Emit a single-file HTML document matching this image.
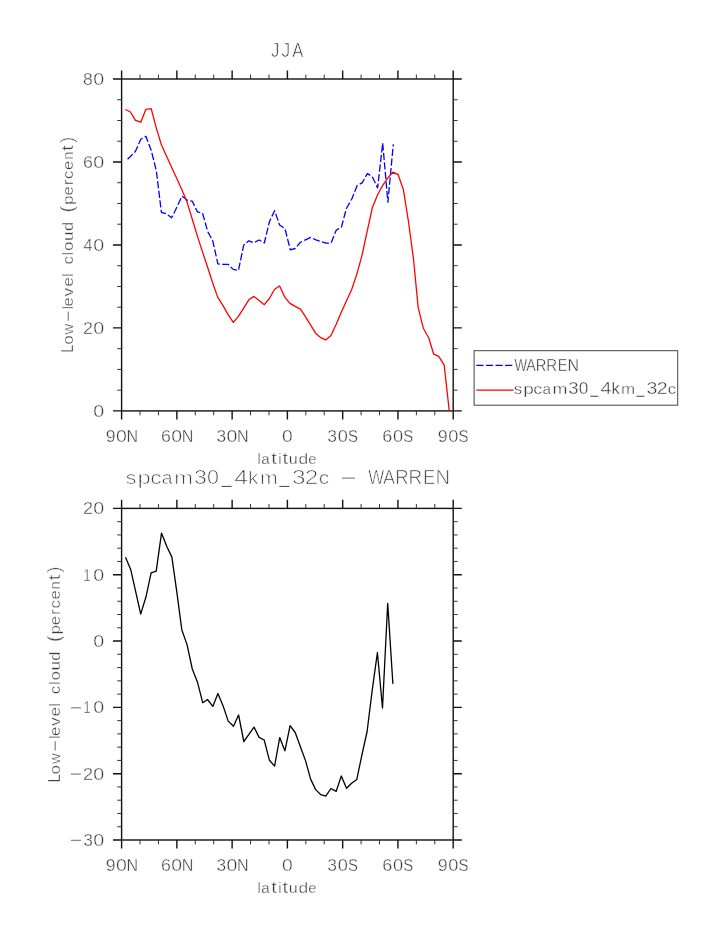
<!DOCTYPE html>
<html><head><meta charset="utf-8"><title>JJA Low-level cloud</title>
<style>html,body{margin:0;padding:0;background:#fff}svg{display:block}text{font-family:"Liberation Sans",sans-serif;fill:#3a3a3a;stroke:#fff}</style></head><body>
<svg style="will-change:transform" width="723" height="935" viewBox="0 0 723 935">
<rect width="723" height="935" fill="#fff"/>
<g stroke="#111" fill="none" stroke-width="1.4">
<rect x="121.60" y="79.00" width="331.60" height="331.90"/>
<path d="M121.60 79.00v-8.60M121.60 410.90v8.60M176.87 79.00v-8.60M176.87 410.90v8.60M232.13 79.00v-8.60M232.13 410.90v8.60M287.40 79.00v-8.60M287.40 410.90v8.60M342.67 79.00v-8.60M342.67 410.90v8.60M397.93 79.00v-8.60M397.93 410.90v8.60M453.20 79.00v-8.60M453.20 410.90v8.60M121.60 79.00h-8.60M453.20 79.00h8.60M121.60 161.97h-8.60M453.20 161.97h8.60M121.60 244.95h-8.60M453.20 244.95h8.60M121.60 327.92h-8.60M453.20 327.92h8.60M121.60 410.90h-8.60M453.20 410.90h8.60"/>
</g>
<g stroke="#333" fill="none" stroke-width="1">
<path d="M140.02 79.00v-4.40M140.02 410.90v4.40M158.44 79.00v-4.40M158.44 410.90v4.40M195.29 79.00v-4.40M195.29 410.90v4.40M213.71 79.00v-4.40M213.71 410.90v4.40M250.56 79.00v-4.40M250.56 410.90v4.40M268.98 79.00v-4.40M268.98 410.90v4.40M305.82 79.00v-4.40M305.82 410.90v4.40M324.24 79.00v-4.40M324.24 410.90v4.40M361.09 79.00v-4.40M361.09 410.90v4.40M379.51 79.00v-4.40M379.51 410.90v4.40M416.36 79.00v-4.40M416.36 410.90v4.40M434.78 79.00v-4.40M434.78 410.90v4.40M121.60 99.74h-4.40M453.20 99.74h4.40M121.60 120.49h-4.40M453.20 120.49h4.40M121.60 141.23h-4.40M453.20 141.23h4.40M121.60 182.72h-4.40M453.20 182.72h4.40M121.60 203.46h-4.40M453.20 203.46h4.40M121.60 224.21h-4.40M453.20 224.21h4.40M121.60 265.69h-4.40M453.20 265.69h4.40M121.60 286.44h-4.40M453.20 286.44h4.40M121.60 307.18h-4.40M453.20 307.18h4.40M121.60 348.67h-4.40M453.20 348.67h4.40M121.60 369.41h-4.40M453.20 369.41h4.40M121.60 390.16h-4.40M453.20 390.16h4.40"/>
</g>
<g font-size="16.50" stroke-width="0.37">
<text transform="translate(93.23 84.85) scale(1.192 1.000)">0</text>
<text transform="translate(83.04 84.85) scale(1.059 1.000)">8</text>
</g>
<g font-size="16.50" stroke-width="0.37">
<text transform="translate(93.23 167.82) scale(1.192 1.000)">0</text>
<text transform="translate(82.90 167.82) scale(1.077 1.000)">6</text>
</g>
<g font-size="16.50" stroke-width="0.37">
<text transform="translate(93.23 250.80) scale(1.192 1.000)">0</text>
<text transform="translate(83.43 250.80) scale(0.986 1.000)">4</text>
</g>
<g font-size="16.50" stroke-width="0.37">
<text transform="translate(93.23 333.77) scale(1.192 1.000)">0</text>
<text transform="translate(82.89 333.77) scale(1.091 1.000)">2</text>
</g>
<g font-size="16.50" stroke-width="0.37">
<text transform="translate(93.23 416.75) scale(1.192 1.000)">0</text>
</g>
<g font-size="16.50" stroke-width="0.37">
<text transform="translate(105.77 441.90) scale(1.076 1.000)">9</text>
<text transform="translate(115.94 441.90) scale(1.179 1.000)">0</text>
<text transform="translate(126.58 441.90) scale(0.976 1.000)">N</text>
</g>
<g font-size="16.50" stroke-width="0.37">
<text transform="translate(160.96 441.90) scale(1.077 1.000)">6</text>
<text transform="translate(171.21 441.90) scale(1.179 1.000)">0</text>
<text transform="translate(181.84 441.90) scale(0.976 1.000)">N</text>
</g>
<g font-size="16.50" stroke-width="0.37">
<text transform="translate(216.47 441.90) scale(1.048 1.000)">3</text>
<text transform="translate(226.47 441.90) scale(1.179 1.000)">0</text>
<text transform="translate(237.11 441.90) scale(0.976 1.000)">N</text>
</g>
<g font-size="16.50" stroke-width="0.37">
<text transform="translate(282.05 441.90) scale(1.166 1.000)">0</text>
</g>
<g font-size="16.50" stroke-width="0.37">
<text transform="translate(327.30 441.90) scale(1.061 1.000)">3</text>
<text transform="translate(337.66 441.90) scale(1.103 1.000)">0</text>
<text transform="translate(347.99 441.90) scale(0.905 1.000)">S</text>
</g>
<g font-size="16.50" stroke-width="0.37">
<text transform="translate(382.32 441.90) scale(1.090 1.000)">6</text>
<text transform="translate(392.92 441.90) scale(1.103 1.000)">0</text>
<text transform="translate(403.25 441.90) scale(0.905 1.000)">S</text>
</g>
<g font-size="16.50" stroke-width="0.37">
<text transform="translate(437.66 441.90) scale(1.089 1.000)">9</text>
<text transform="translate(448.19 441.90) scale(1.103 1.000)">0</text>
<text transform="translate(458.52 441.90) scale(0.905 1.000)">S</text>
</g>
<g font-size="16.20" stroke-width="0.35">
<text transform="translate(257.81 463.80) scale(0.773 0.960)">l</text>
<text transform="translate(261.25 463.80) scale(0.937 0.930)">a</text>
<text transform="translate(271.26 463.80) scale(1.250 1.000)">t</text>
<text transform="translate(278.41 463.80) scale(0.773 0.960)">i</text>
<text transform="translate(282.41 463.80) scale(1.250 1.000)">t</text>
<text transform="translate(288.86 463.80) scale(0.988 0.930)">u</text>
<text transform="translate(298.57 463.80) scale(1.071 0.960)">d</text>
<text transform="translate(308.27 463.80) scale(0.921 0.930)">e</text>
</g>
<g font-size="19.40" stroke-width="0.63">
<text transform="translate(270.94 56.90) scale(0.867 1.000)">J</text>
<text transform="translate(281.22 56.90) scale(0.930 1.000)">J</text>
<text transform="translate(292.17 56.90) scale(0.855 1.000)">A</text>
</g>
<g font-size="16.20" stroke-width="0.35" transform="translate(72.80 351.60) rotate(-90)">
<text transform="translate(-1.21 0.00) scale(0.910 1.000)">L</text>
<text transform="translate(7.02 0.00) scale(1.007 0.930)">o</text>
<text transform="translate(17.12 0.00) scale(0.910 0.930)">w</text>
<text transform="translate(42.71 0.00) scale(0.773 0.960)">l</text>
<text transform="translate(45.10 0.00) scale(1.013 0.930)">e</text>
<text transform="translate(55.14 0.00) scale(1.076 0.930)">v</text>
<text transform="translate(64.77 0.00) scale(1.066 0.930)">e</text>
<text transform="translate(75.01 0.00) scale(0.773 0.960)">l</text>
<text transform="translate(87.23 0.00) scale(0.974 0.930)">c</text>
<text transform="translate(96.71 0.00) scale(0.773 0.960)">l</text>
<text transform="translate(100.92 0.00) scale(1.007 0.930)">o</text>
<text transform="translate(110.68 0.00) scale(1.061 0.930)">u</text>
<text transform="translate(120.52 0.00) scale(1.002 0.960)">d</text>
<text transform="translate(139.40 0.00) scale(1.094 1.170)">(</text>
<text transform="translate(146.83 0.00) scale(1.029 0.930)">p</text>
<text transform="translate(156.00 0.00) scale(1.013 0.930)">e</text>
<text transform="translate(166.26 0.00) scale(1.062 0.930)">r</text>
<text transform="translate(172.68 0.00) scale(1.045 0.930)">c</text>
<text transform="translate(181.70 0.00) scale(1.013 0.930)">e</text>
<text transform="translate(191.73 0.00) scale(0.901 0.930)">n</text>
<text transform="translate(200.91 0.00) scale(1.250 1.000)">t</text>
<text transform="translate(208.80 0.00) scale(1.094 1.170)">)</text>
</g>
<path d="M30.80 -4.50H40.00" stroke="#8c8c8c" stroke-width="1.30" fill="none" transform="translate(72.80 351.60) rotate(-90)"/>
<polyline points="127.6,159.2 130.4,156.5 135.5,151.3 140.8,139.2 145.9,136.3 151.2,150.3 156.3,170.5 161.4,212.3 166.6,214.0 171.7,217.8 176.9,207.0 182.0,196.2 187.2,200.1 192.3,201.2 197.4,211.9 202.6,213.3 207.7,231.5 212.8,241.0 217.9,263.9 222.9,264.3 228.0,264.3 233.2,269.4 238.4,270.5 243.7,245.2 248.8,240.8 253.9,242.7 259.2,240.0 264.3,243.0 269.5,221.5 274.6,210.7 279.6,225.0 285.0,228.7 290.3,249.8 295.1,248.5 300.2,242.5 305.5,239.8 310.6,237.4 315.9,239.8 321.1,241.5 326.2,243.2 331.1,242.9 336.3,230.1 341.4,227.3 346.4,208.5 351.8,199.0 357.2,185.4 362.1,182.9 367.4,173.6 372.3,176.7 377.6,187.9 382.7,143.1 387.9,202.2 393.3,144.3" fill="none" stroke="#0000ff" stroke-width="1.3" stroke-dasharray="7.2 2.4" stroke-linejoin="round"/>
<polyline points="125.3,109.5 130.4,112.0 135.5,120.3 140.8,122.2 145.9,109.3 151.2,108.7 156.3,128.1 161.4,144.7 166.6,156.2 171.7,167.4 176.9,178.8 182.0,190.0 187.2,202.6 192.3,219.2 197.4,236.1 202.6,252.1 207.7,267.5 212.8,283.3 217.7,297.1 222.9,305.4 228.0,314.4 233.3,322.4 238.4,316.4 243.7,308.1 248.8,299.8 253.9,296.4 259.2,300.5 264.3,304.7 269.4,298.5 274.6,289.2 279.6,286.0 284.8,297.1 289.9,303.4 295.2,306.4 300.4,309.1 305.3,316.3 310.5,324.8 315.6,333.2 320.8,337.7 325.7,339.9 331.0,335.6 336.2,324.3 341.3,312.3 346.4,301.1 351.6,289.8 356.7,274.6 361.8,256.2 367.0,232.1 372.3,207.8 377.6,194.7 382.7,185.4 387.9,177.9 392.9,172.2 398.2,174.7 403.4,189.7 408.3,220.5 413.4,258.0 418.2,307.7 423.3,328.2 428.7,337.7 433.7,354.2 438.8,356.4 444.2,365.1 449.2,410.5" fill="none" stroke="#ff0000" stroke-width="1.3" stroke-linejoin="round"/>
<rect x="474.1" y="350.7" width="203.6" height="54.5" fill="#fff" stroke="#444" stroke-width="1"/>
<path d="M476.3 365.3H513.6" stroke="#0000ff" stroke-width="1.3" stroke-dasharray="7.2 2.4" fill="none"/>
<path d="M476.3 390.1H513.6" stroke="#ff0000" stroke-width="1.3" fill="none"/>
<g font-size="16.40" stroke-width="0.36">
<text transform="translate(513.83 394.30) scale(1.038 0.930)">s</text>
<text transform="translate(523.14 394.30) scale(1.158 0.930)">p</text>
<text transform="translate(533.32 394.30) scale(1.118 0.930)">c</text>
<text transform="translate(542.55 394.30) scale(0.938 0.930)">a</text>
<text transform="translate(552.56 394.30) scale(1.091 0.930)">m</text>
<text transform="translate(568.37 394.30) scale(1.130 1.000)">3</text>
<text transform="translate(578.63 394.30) scale(1.049 1.000)">0</text>
<path d="M590.32 396.24H598.30" stroke="#4a4a4a" stroke-width="1.05" fill="none"/>
<text transform="translate(600.48 394.30) scale(1.208 1.000)">4</text>
<text transform="translate(611.48 394.30) scale(1.009 0.960)">k</text>
<text transform="translate(621.05 394.30) scale(1.035 0.930)">m</text>
<path d="M636.47 396.24H644.46" stroke="#4a4a4a" stroke-width="1.05" fill="none"/>
<text transform="translate(646.59 394.30) scale(1.191 1.000)">3</text>
<text transform="translate(656.73 394.30) scale(1.186 1.000)">2</text>
<text transform="translate(667.85 394.30) scale(1.028 0.930)">c</text>
</g>
<g font-size="16.40" stroke-width="0.36">
<text transform="translate(514.44 371.40) scale(0.813 1.000)">W</text>
<text transform="translate(526.24 371.40) scale(0.872 1.000)">A</text>
<text transform="translate(535.81 371.40) scale(0.892 1.000)">R</text>
<text transform="translate(546.29 371.40) scale(0.917 1.000)">R</text>
<text transform="translate(557.86 371.40) scale(0.889 1.000)">E</text>
<text transform="translate(567.62 371.40) scale(0.974 1.000)">N</text>
</g>
<g font-size="20.40" stroke-width="0.72">
<text transform="translate(125.81 484.00) scale(1.046 0.930)">s</text>
<text transform="translate(137.47 484.00) scale(1.166 0.930)">p</text>
<text transform="translate(150.22 484.00) scale(1.126 0.930)">c</text>
<text transform="translate(161.78 484.00) scale(0.945 0.930)">a</text>
<text transform="translate(174.31 484.00) scale(1.098 0.930)">m</text>
<text transform="translate(194.12 484.00) scale(1.137 1.000)">3</text>
<text transform="translate(206.96 484.00) scale(1.056 1.000)">0</text>
<path d="M221.60 486.41H231.60" stroke="#4a4a4a" stroke-width="1.05" fill="none"/>
<text transform="translate(234.33 484.00) scale(1.216 1.000)">4</text>
<text transform="translate(248.10 484.00) scale(1.016 0.930)">k</text>
<text transform="translate(260.09 484.00) scale(1.042 0.930)">m</text>
<path d="M279.40 486.41H289.40" stroke="#4a4a4a" stroke-width="1.05" fill="none"/>
<text transform="translate(292.07 484.00) scale(1.199 1.000)">3</text>
<text transform="translate(304.77 484.00) scale(1.194 1.000)">2</text>
<text transform="translate(318.70 484.00) scale(1.035 0.930)">c</text>
<text transform="translate(368.13 484.00) scale(0.827 1.000)">W</text>
<text transform="translate(383.06 484.00) scale(0.887 1.000)">A</text>
<text transform="translate(395.18 484.00) scale(0.908 1.000)">R</text>
<text transform="translate(408.44 484.00) scale(0.933 1.000)">R</text>
<text transform="translate(423.09 484.00) scale(0.904 1.000)">E</text>
<text transform="translate(435.44 484.00) scale(0.992 1.000)">N</text>
</g>
<path d="M342.00 478.10H354.90" stroke="#8c8c8c" stroke-width="1.30" fill="none"/>
<g stroke="#111" fill="none" stroke-width="1.4">
<rect x="121.60" y="508.40" width="331.60" height="331.60"/>
<path d="M121.60 508.40v-8.60M121.60 840.00v8.60M176.87 508.40v-8.60M176.87 840.00v8.60M232.13 508.40v-8.60M232.13 840.00v8.60M287.40 508.40v-8.60M287.40 840.00v8.60M342.67 508.40v-8.60M342.67 840.00v8.60M397.93 508.40v-8.60M397.93 840.00v8.60M453.20 508.40v-8.60M453.20 840.00v8.60M121.60 508.40h-8.60M453.20 508.40h8.60M121.60 574.72h-8.60M453.20 574.72h8.60M121.60 641.04h-8.60M453.20 641.04h8.60M121.60 707.36h-8.60M453.20 707.36h8.60M121.60 773.68h-8.60M453.20 773.68h8.60M121.60 840.00h-8.60M453.20 840.00h8.60"/>
</g>
<g stroke="#333" fill="none" stroke-width="1">
<path d="M140.02 508.40v-4.40M140.02 840.00v4.40M158.44 508.40v-4.40M158.44 840.00v4.40M195.29 508.40v-4.40M195.29 840.00v4.40M213.71 508.40v-4.40M213.71 840.00v4.40M250.56 508.40v-4.40M250.56 840.00v4.40M268.98 508.40v-4.40M268.98 840.00v4.40M305.82 508.40v-4.40M305.82 840.00v4.40M324.24 508.40v-4.40M324.24 840.00v4.40M361.09 508.40v-4.40M361.09 840.00v4.40M379.51 508.40v-4.40M379.51 840.00v4.40M416.36 508.40v-4.40M416.36 840.00v4.40M434.78 508.40v-4.40M434.78 840.00v4.40M121.60 521.66h-4.40M453.20 521.66h4.40M121.60 534.93h-4.40M453.20 534.93h4.40M121.60 548.19h-4.40M453.20 548.19h4.40M121.60 561.46h-4.40M453.20 561.46h4.40M121.60 587.98h-4.40M453.20 587.98h4.40M121.60 601.25h-4.40M453.20 601.25h4.40M121.60 614.51h-4.40M453.20 614.51h4.40M121.60 627.78h-4.40M453.20 627.78h4.40M121.60 654.30h-4.40M453.20 654.30h4.40M121.60 667.57h-4.40M453.20 667.57h4.40M121.60 680.83h-4.40M453.20 680.83h4.40M121.60 694.10h-4.40M453.20 694.10h4.40M121.60 720.62h-4.40M453.20 720.62h4.40M121.60 733.89h-4.40M453.20 733.89h4.40M121.60 747.15h-4.40M453.20 747.15h4.40M121.60 760.42h-4.40M453.20 760.42h4.40M121.60 786.94h-4.40M453.20 786.94h4.40M121.60 800.21h-4.40M453.20 800.21h4.40M121.60 813.47h-4.40M453.20 813.47h4.40M121.60 826.74h-4.40M453.20 826.74h4.40"/>
</g>
<g font-size="16.50" stroke-width="0.37">
<text transform="translate(93.23 514.25) scale(1.192 1.000)">0</text>
<text transform="translate(82.89 514.25) scale(1.091 1.000)">2</text>
</g>
<g font-size="16.50" stroke-width="0.37">
<text transform="translate(93.23 580.57) scale(1.192 1.000)">0</text>
<text transform="translate(83.68 580.57) scale(0.720 1.000)">1</text>
</g>
<g font-size="16.50" stroke-width="0.37">
<text transform="translate(93.23 646.89) scale(1.192 1.000)">0</text>
</g>
<g font-size="16.50" stroke-width="0.37">
<text transform="translate(93.23 713.21) scale(1.192 1.000)">0</text>
<text transform="translate(83.68 713.21) scale(0.720 1.000)">1</text>
</g>
<path d="M70.90 707.76H80.90" stroke="#8c8c8c" stroke-width="1.30" fill="none"/>
<g font-size="16.50" stroke-width="0.37">
<text transform="translate(93.23 779.53) scale(1.192 1.000)">0</text>
<text transform="translate(82.89 779.53) scale(1.091 1.000)">2</text>
</g>
<path d="M70.90 774.08H80.90" stroke="#8c8c8c" stroke-width="1.30" fill="none"/>
<g font-size="16.50" stroke-width="0.37">
<text transform="translate(93.23 845.85) scale(1.192 1.000)">0</text>
<text transform="translate(83.14 845.85) scale(1.048 1.000)">3</text>
</g>
<path d="M70.90 840.40H80.90" stroke="#8c8c8c" stroke-width="1.30" fill="none"/>
<g font-size="16.50" stroke-width="0.37">
<text transform="translate(105.77 871.00) scale(1.076 1.000)">9</text>
<text transform="translate(115.94 871.00) scale(1.179 1.000)">0</text>
<text transform="translate(126.58 871.00) scale(0.976 1.000)">N</text>
</g>
<g font-size="16.50" stroke-width="0.37">
<text transform="translate(160.96 871.00) scale(1.077 1.000)">6</text>
<text transform="translate(171.21 871.00) scale(1.179 1.000)">0</text>
<text transform="translate(181.84 871.00) scale(0.976 1.000)">N</text>
</g>
<g font-size="16.50" stroke-width="0.37">
<text transform="translate(216.47 871.00) scale(1.048 1.000)">3</text>
<text transform="translate(226.47 871.00) scale(1.179 1.000)">0</text>
<text transform="translate(237.11 871.00) scale(0.976 1.000)">N</text>
</g>
<g font-size="16.50" stroke-width="0.37">
<text transform="translate(282.05 871.00) scale(1.166 1.000)">0</text>
</g>
<g font-size="16.50" stroke-width="0.37">
<text transform="translate(327.30 871.00) scale(1.061 1.000)">3</text>
<text transform="translate(337.66 871.00) scale(1.103 1.000)">0</text>
<text transform="translate(347.99 871.00) scale(0.905 1.000)">S</text>
</g>
<g font-size="16.50" stroke-width="0.37">
<text transform="translate(382.32 871.00) scale(1.090 1.000)">6</text>
<text transform="translate(392.92 871.00) scale(1.103 1.000)">0</text>
<text transform="translate(403.25 871.00) scale(0.905 1.000)">S</text>
</g>
<g font-size="16.50" stroke-width="0.37">
<text transform="translate(437.66 871.00) scale(1.089 1.000)">9</text>
<text transform="translate(448.19 871.00) scale(1.103 1.000)">0</text>
<text transform="translate(458.52 871.00) scale(0.905 1.000)">S</text>
</g>
<g font-size="16.20" stroke-width="0.35">
<text transform="translate(257.81 892.90) scale(0.773 0.960)">l</text>
<text transform="translate(261.25 892.90) scale(0.937 0.930)">a</text>
<text transform="translate(271.26 892.90) scale(1.250 1.000)">t</text>
<text transform="translate(278.41 892.90) scale(0.773 0.960)">i</text>
<text transform="translate(282.41 892.90) scale(1.250 1.000)">t</text>
<text transform="translate(288.86 892.90) scale(0.988 0.930)">u</text>
<text transform="translate(298.57 892.90) scale(1.071 0.960)">d</text>
<text transform="translate(308.27 892.90) scale(0.921 0.930)">e</text>
</g>
<g font-size="16.20" stroke-width="0.35" transform="translate(59.70 781.20) rotate(-90)">
<text transform="translate(-1.21 0.00) scale(0.910 1.000)">L</text>
<text transform="translate(7.02 0.00) scale(1.007 0.930)">o</text>
<text transform="translate(17.12 0.00) scale(0.910 0.930)">w</text>
<text transform="translate(42.71 0.00) scale(0.773 0.960)">l</text>
<text transform="translate(45.10 0.00) scale(1.013 0.930)">e</text>
<text transform="translate(55.14 0.00) scale(1.076 0.930)">v</text>
<text transform="translate(64.77 0.00) scale(1.066 0.930)">e</text>
<text transform="translate(75.01 0.00) scale(0.773 0.960)">l</text>
<text transform="translate(87.23 0.00) scale(0.974 0.930)">c</text>
<text transform="translate(96.71 0.00) scale(0.773 0.960)">l</text>
<text transform="translate(100.92 0.00) scale(1.007 0.930)">o</text>
<text transform="translate(110.68 0.00) scale(1.061 0.930)">u</text>
<text transform="translate(120.52 0.00) scale(1.002 0.960)">d</text>
<text transform="translate(139.40 0.00) scale(1.094 1.170)">(</text>
<text transform="translate(146.83 0.00) scale(1.029 0.930)">p</text>
<text transform="translate(156.00 0.00) scale(1.013 0.930)">e</text>
<text transform="translate(166.26 0.00) scale(1.062 0.930)">r</text>
<text transform="translate(172.68 0.00) scale(1.045 0.930)">c</text>
<text transform="translate(181.70 0.00) scale(1.013 0.930)">e</text>
<text transform="translate(191.73 0.00) scale(0.901 0.930)">n</text>
<text transform="translate(200.91 0.00) scale(1.250 1.000)">t</text>
<text transform="translate(208.80 0.00) scale(1.094 1.170)">)</text>
</g>
<path d="M30.80 -4.50H40.00" stroke="#8c8c8c" stroke-width="1.30" fill="none" transform="translate(59.70 781.20) rotate(-90)"/>
<polyline points="125.5,557.3 130.8,569.8 135.9,592.6 140.7,614.1 146.0,596.8 151.1,572.8 156.2,571.2 161.5,533.1 166.7,546.3 171.9,557.1 177.0,593.3 181.8,629.7 187.1,644.9 192.3,669.0 197.6,682.6 202.7,702.7 207.5,699.5 212.8,706.4 217.9,693.5 223.1,705.9 228.2,721.1 233.5,726.3 238.6,715.0 243.8,741.5 248.9,734.4 254.0,727.1 259.1,737.4 264.2,740.0 269.4,760.2 274.6,766.1 279.7,737.6 284.9,750.8 290.1,725.6 295.2,732.5 300.5,747.0 305.6,760.9 310.6,779.1 315.7,789.6 320.8,794.7 325.8,796.1 330.9,788.5 336.2,791.4 341.3,776.0 346.5,788.3 351.6,783.2 356.8,779.4 362.0,754.5 367.1,731.5 372.1,691.1 377.4,652.5 382.5,708.0 387.7,603.3 392.9,683.9" fill="none" stroke="#000" stroke-width="1.3" stroke-linejoin="round"/>
</svg></body></html>
